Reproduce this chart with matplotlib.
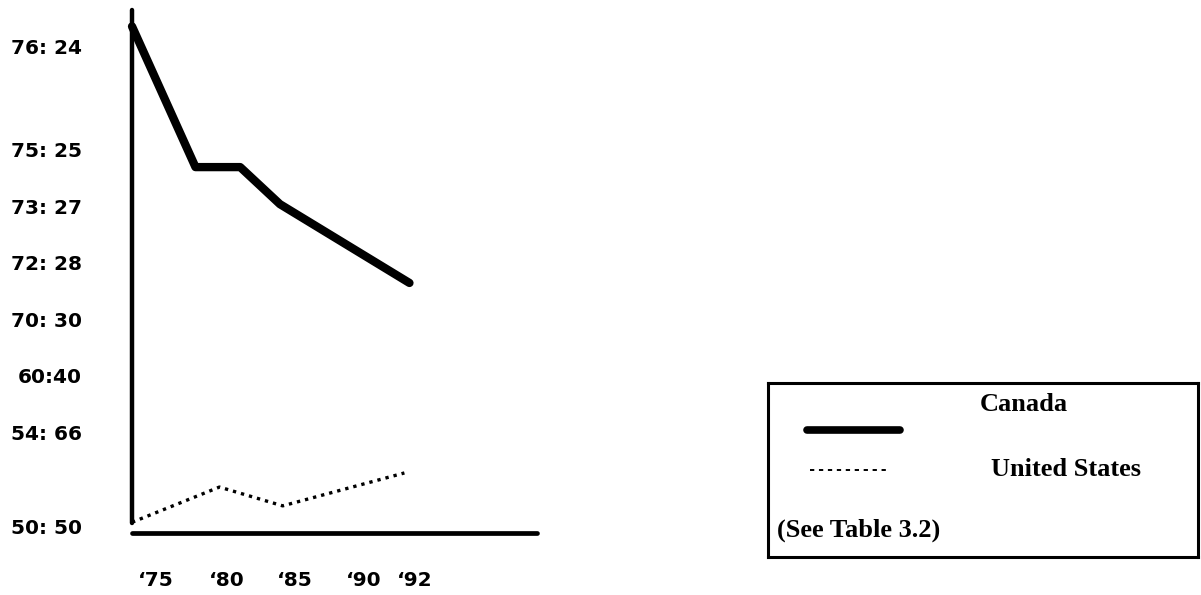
import numpy as np
import matplotlib
matplotlib.use("Agg")
import matplotlib.pyplot as plt

# ---------------- data ----------------
tick_years = [1975, 1980, 1985, 1990, 1992]
tick_year_labels = ["\u201875", "\u201880", "\u201885", "\u201890", "\u201892"]

ratio_values = [76, 75, 73, 72, 70, 60, 54, 50]
ratio_labels = ["76: 24", "75: 25", "73: 27", "72: 28", "70: 30", "60:40", "54: 66", "50: 50"]

canada_years = [1973.3, 1977.8, 1981.0, 1983.9, 1991.8]
canada_values = [76.2, 74.4, 74.4, 73.1, 71.3]

us_years = [1973.3, 1979.5, 1984.1, 1991.6]
us_values = [50.2, 51.7, 50.9, 52.3]

legend_names = ["Canada", "United States"]
legend_note = "(See Table 3.2)"

# ---------------- layout (pixels) ----------------
W, H = 1201, 595
x_tick_px = [156, 226.5, 295, 364, 414.5]          # hand-drawn, uneven spacing
y_tick_px = [47, 150, 207, 263, 320, 376, 433, 527]
AX_L, AX_R, AX_T, AX_B = 132, 537, 10, 533


def piecewise(src, dst):
    order = np.argsort(src)
    s = np.asarray(src, float)[order]
    d = np.asarray(dst, float)[order]

    def build(a, b):
        lo = (b[1] - b[0]) / (a[1] - a[0])
        hi = (b[-1] - b[-2]) / (a[-1] - a[-2])

        def f(v):
            v = np.asarray(v, float)
            out = np.interp(v, a, b)
            out = np.where(v < a[0], b[0] + (v - a[0]) * lo, out)
            out = np.where(v > a[-1], b[-1] + (v - a[-1]) * hi, out)
            return out
        return f

    return build(s, d), build(d, s)


xf, xi = piecewise(tick_years, x_tick_px)
yf, yi = piecewise(ratio_values, [AX_B - p for p in y_tick_px])

fig = plt.figure(figsize=(W / 100, H / 100), dpi=100)
fig.patch.set_facecolor("white")

ax = fig.add_axes([AX_L / W, (H - AX_B) / H, (AX_R - AX_L) / W, (AX_B - AX_T) / H])
ax.set_xscale("function", functions=(xf, xi))
ax.set_yscale("function", functions=(yf, yi))
ax.set_xlim(float(xi(AX_L)), float(xi(AX_R)))
ax.set_ylim(float(yi(0)), float(yi(AX_B - AX_T)))

ax.plot(canada_years, canada_values, color="black", lw=6,
        solid_capstyle="round", solid_joinstyle="round", clip_on=False)
ax.plot(us_years, us_values, color="black", lw=2.4,
        linestyle=(0, (1.0, 1.5)), clip_on=False)

for s in ("top", "right"):
    ax.spines[s].set_visible(False)
ax.spines["left"].set_linewidth(3.2)
ax.spines["left"].set_capstyle("round")
ax.spines["left"].set_bounds(float(yi(AX_B - 523)), float(yi(AX_B - AX_T)))
ax.spines["bottom"].set_linewidth(3.4)
ax.spines["bottom"].set_capstyle("round")

ax.set_xticks(tick_years, tick_year_labels)
ax.set_yticks(ratio_values, ratio_labels)
ax.minorticks_off()
ax.tick_params(axis="y", length=0, pad=36, labelsize=14.5)
ax.tick_params(axis="x", length=0, pad=27, labelsize=14.5)
for lab in ax.get_xticklabels() + ax.get_yticklabels():
    lab.set_fontweight("bold")
    lab.set_family("DejaVu Sans")

# ---------------- legend box ----------------
LX0, LX1, LY0, LY1 = 768, 1198, 383, 557
lax = fig.add_axes([LX0 / W, (H - LY1) / H, (LX1 - LX0) / W, (LY1 - LY0) / H])
lax.set_xlim(0, 1)
lax.set_ylim(0, 1)
lax.set_xticks([])
lax.set_yticks([])
for s in lax.spines.values():
    s.set_linewidth(2.2)
lax.plot([0.09, 0.306], [0.73, 0.73], color="black", lw=5.5, solid_capstyle="round")
lax.plot([0.097, 0.283], [0.5, 0.5], color="black", lw=1.4, linestyle=(0, (2.2, 2.4)))
serif = dict(family="Liberation Serif", fontweight="bold", fontsize=19, color="black")
lax.text(0.594, 0.874, legend_names[0], ha="center", va="center", **serif)
lax.text(0.694, 0.5, legend_names[1], ha="center", va="center", **serif)
lax.text(0.021, 0.155, legend_note, ha="left", va="center", **serif)

fig.savefig("out.png", dpi=100, facecolor="white")
